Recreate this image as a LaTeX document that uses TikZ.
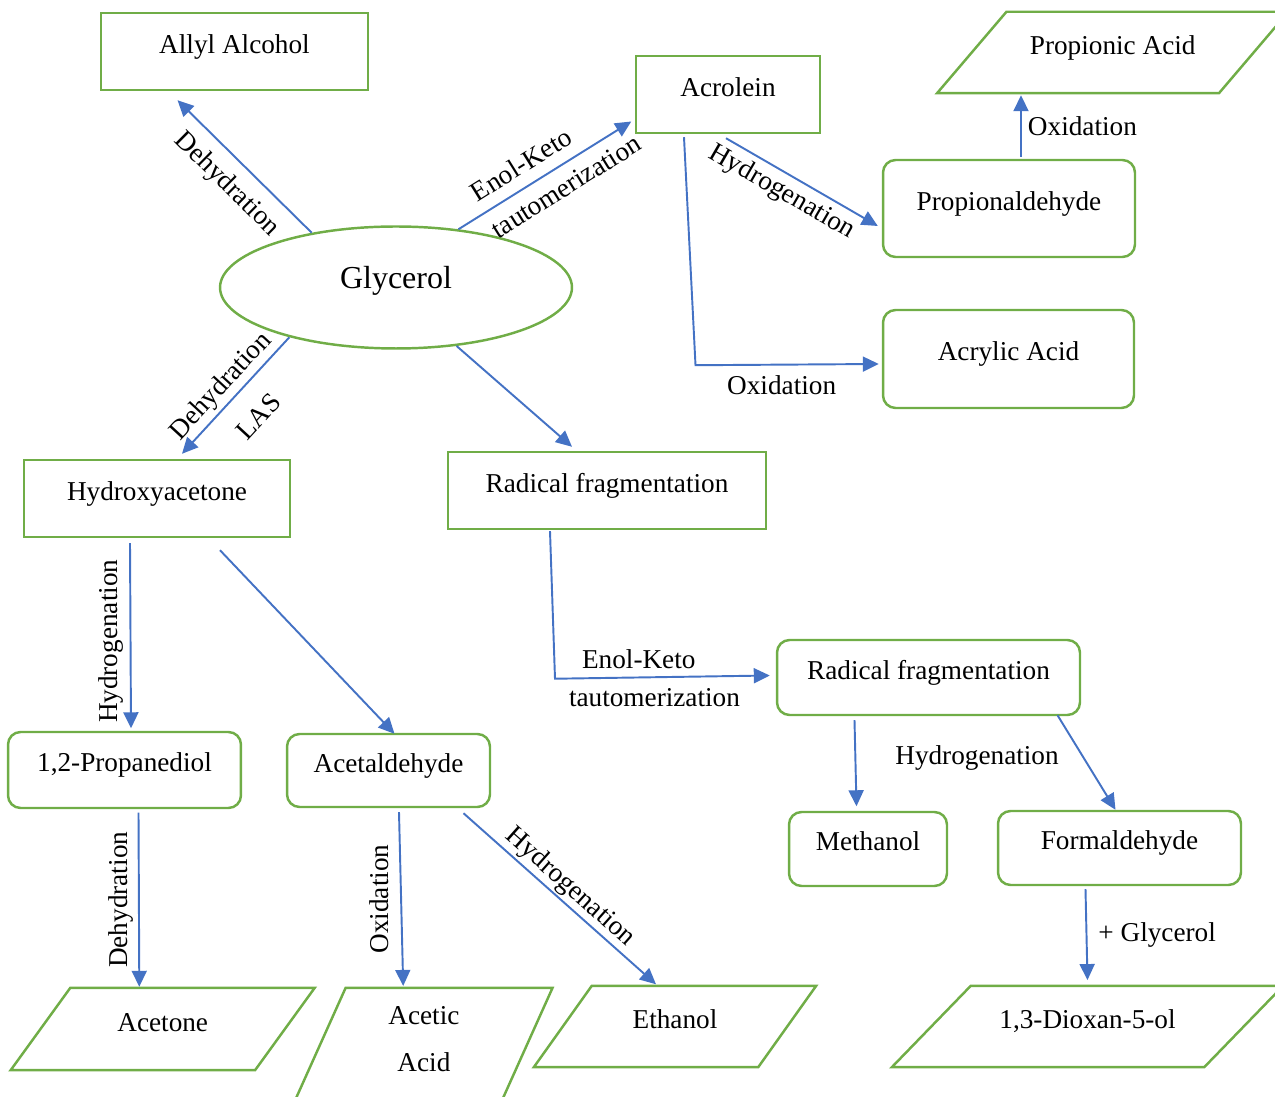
\documentclass[tikz,border=0pt]{standalone}
\usepackage{fontspec}
\setmainfont{Liberation Serif}
\usepackage{tikz}
\usetikzlibrary{arrows.meta,calc,shapes.geometric}
\definecolor{PWGreen}{HTML}{70AD47}
\definecolor{PWBlue}{HTML}{4472C4}

\begin{document}
\begin{tikzpicture}[x=0.02cm,y=-0.02cm,
  txt/.style={font=\fontsize{15.5}{18.6}\selectfont},
  outline/.style={txt,draw=PWGreen,line width=1.4pt,inner sep=0pt},
  box/.style={outline,text height=0.4cm,text depth=0.32cm},
  rbox/.style={box,rounded corners=0.25cm},
  slantbox/.style={box,draw=none},
  slantline/.style={draw=PWGreen,line width=1.4pt},
  arr/.style={draw=PWBlue,line width=1.1pt,-{Triangle[length=0.32cm,width=0.3cm]}},
  lbl/.style={txt,inner sep=0.1cm}]
\path[use as bounding box] (0,0) rectangle (1275,1097);
\node[box,minimum width=5.34cm,minimum height=1.54cm] (allyl) at (234.5,51.5) {Allyl Alcohol};
\node[box,minimum width=3.68cm,minimum height=1.54cm] (acrolein) at (728,94.5) {Acrolein};
\node[slantbox,minimum width=5.59cm,minimum height=1.58cm] (propionic) at (1112.7,52.5) {Propionic Acid};
\node[rbox,minimum width=5.04cm,minimum height=1.94cm] (propald) at (1009,208.5) {Propionaldehyde};
\node[rbox,minimum width=5.02cm,minimum height=1.96cm] (acrylic) at (1008.5,359) {Acrylic Acid};
\node[ellipse,draw=PWGreen,line width=1.4pt,inner sep=0pt,minimum width=7.04cm,minimum height=2.44cm,font=\fontsize{18.2}{21.8}\selectfont,text height=0.45cm,text depth=0.39cm] (glycerol) at (396,287.5) {Glycerol};
\node[box,minimum width=5.32cm,minimum height=1.54cm] (hydroxy) at (157,498.5) {Hydroxyacetone};
\node[box,minimum width=6.36cm,minimum height=1.54cm] (radfrag) at (607,490.5) {Radical fragmentation};
\node[rbox,minimum width=6.06cm,minimum height=1.5cm] (radfragb) at (928.5,677.5) {Radical fragmentation};
\node[rbox,minimum width=4.66cm,minimum height=1.52cm] (propdiol) at (124.5,770) {1,2-Propanediol};
\node[rbox,minimum width=4.06cm,minimum height=1.46cm] (acetald) at (388.5,770.5) {Acetaldehyde};
\node[rbox,minimum width=3.16cm,minimum height=1.48cm] (methanol) at (868,849) {Methanol};
\node[rbox,minimum width=4.86cm,minimum height=1.48cm] (formald) at (1119.5,848) {Formaldehyde};
\node[slantbox,minimum width=4.84cm,minimum height=1.6cm] (acetone) at (162.7,1029) {Acetone};
\node[outline,draw=none,minimum width=4.09cm,minimum height=2.19cm,align=center,font=\fontsize{15.5}{26.7}\selectfont,text depth=0.2cm] (acetic) at (423.9,1043.9) {Acetic\\Acid};
\node[slantbox,minimum width=4.44cm,minimum height=1.58cm] (ethanol) at (675,1026.5) {Ethanol};
\node[slantbox,minimum width=6.2cm,minimum height=1.58cm] (dioxan) at (1087.5,1026.5) {1,3-Dioxan-5-ol};
\foreach \n/\s in {propionic/69.4,acetone/59.7,acetic/50.3,ethanol/58,dioxan/79}
  \draw[slantline] ($(\n.south west)+(-\s/2,0)$) -- ($(\n.south east)+(-\s/2,0)$) -- ($(\n.north east)+(\s/2,0)$) -- ($(\n.north west)+(\s/2,0)$) -- cycle;

\draw[arr] (glycerol.147) -- node[lbl,sloped,below,inner sep=0.24cm]{Dehydration} ($(allyl.south)+(-57,9)$);
\draw[arr] (glycerol.43) -- node[lbl,sloped,above,pos=0.43,inner sep=0.23cm]{Enol-Keto} node[lbl,sloped,below,pos=0.56,inner sep=0.21cm]{tautomerization} ($(acrolein.west)+(-3.5,27)$);
\draw[arr] (glycerol.205) -- node[lbl,sloped,above,pos=0.52,inner sep=0.06cm]{Dehydration} node[lbl,sloped,below,pos=0.5,inner sep=0.42cm]{LAS} ($(hydroxy.north)+(25,-5)$);
\draw[arr] (glycerol.-44) -- ($(radfrag.north)+(-35,-4)$);
\draw[arr] ($(acrolein.south)+(-2,4)$) -- node[lbl,sloped,below,pos=0.43,inner sep=0.11cm]{Hydrogenation} ($(propald.west)+(-4,17.5)$);
\draw[arr] ($(acrolein.south)+(-44,3)$) -- ++(11.5,228) -- node[lbl,below,pos=0.47,inner sep=0.2cm]{Oxidation} ($(acrylic.west)+(-3,5)$);
\draw[arr] ($(propald.north)+(12,-2)$) -- node[lbl,right,inner sep=0.12cm]{Oxidation} ($(propionic.south)+(-91.7,2)$);
\draw[arr] ($(hydroxy.south)+(-27,5)$) -- node[lbl,rotate=90,above,pos=0.53,inner sep=0.115cm]{Hydrogenation} ($(propdiol.north)+(6.5,-2.5)$);
\draw[arr] ($(hydroxy.south)+(63,12)$) -- ($(acetald.north)+(6,1)$);
\draw[arr] ($(propdiol.south)+(14,3.5)$) -- node[lbl,rotate=90,above,inner sep=0.09cm]{Dehydration} ($(acetone.north)+(-23.4,-1)$);
\draw[arr] ($(acetald.south)+(10.5,4)$) -- node[lbl,rotate=90,above,inner sep=0.23cm]{Oxidation} ($(acetic.north)+(-20.7,-2)$);
\draw[arr] ($(acetald.south)+(75,5)$) -- node[lbl,sloped,above,inner sep=0.04cm]{Hydrogenation} ($(ethanol.north)+(-19,-1.5)$);
\draw[arr] ($(radfrag.south)+(-57,1)$) -- ++(5,147.5) -- node[lbl,above,pos=0.39,inner sep=0.16cm]{Enol-Keto} node[lbl,below,pos=0.463,inner sep=0.2cm]{tautomerization} ($(radfragb.west)+(-6,-2)$);
\draw[arr] ($(radfragb.south)+(-74,4)$) -- node[lbl,right=0.68cm,pos=0.44]{Hydrogenation} ($(methanol.north)+(-11.5,-4.5)$);
\draw[arr] ($(radfragb.south)+(129,-1)$) -- ($(formald.north)+(-4,0)$);
\draw[arr] ($(formald.south)+(-34,3)$) -- node[lbl,right,inner sep=0.22cm]{+ Glycerol} ($(dioxan.north)+(0,-5.7)$);
\end{tikzpicture}
\end{document}
